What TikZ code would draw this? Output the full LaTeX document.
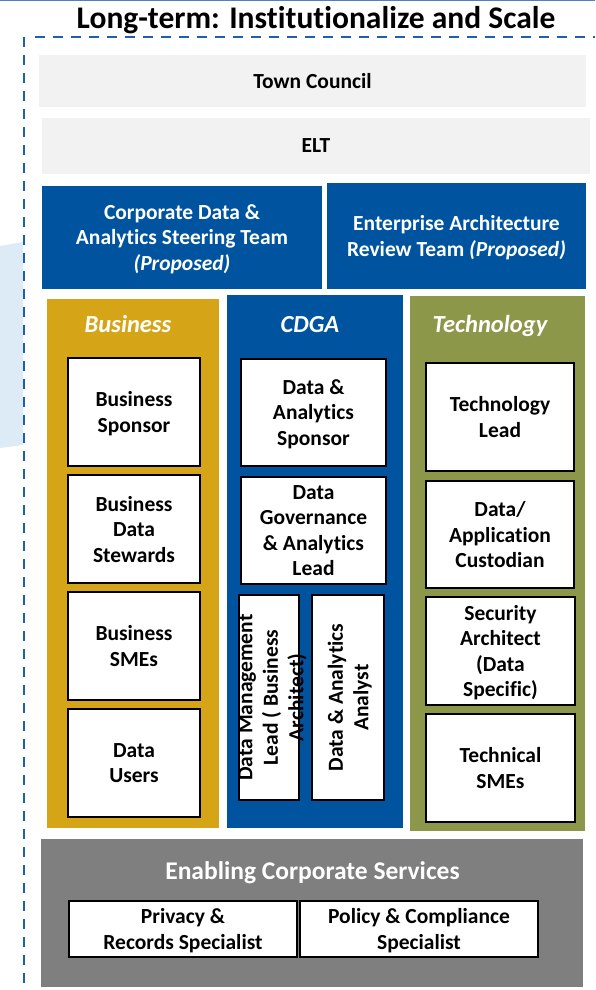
\documentclass[tikz,border=0pt]{standalone}
\usepackage{fontspec}
\setmainfont{Carlito}[Ligatures=NoCommon]
\definecolor{cblue}{RGB}{0,84,159}
\definecolor{cgold}{RGB}{214,165,23}
\definecolor{colive}{RGB}{141,151,73}
\definecolor{clgray}{RGB}{242,242,242}
\definecolor{cmgray}{RGB}{127,127,127}
\definecolor{cdash}{RGB}{31,95,170}
\definecolor{clblue}{RGB}{221,235,247}
\definecolor{ctblue}{RGB}{79,129,189}
\begin{document}
\begin{tikzpicture}[x=1pt,y=-1pt,
  lbl/.style={font=\bfseries\fontsize{21.5}{25.5}\selectfont, align=center, inner sep=0pt, text depth=0pt},
  sz/.style 2 args={minimum width=#1pt, minimum height=#2pt},
  wbox/.style={lbl, draw=black, line width=1.4pt, fill=white},
  gbox/.style={lbl, fill=clgray},
  bbox/.style={lbl, fill=cblue, text=white},
  col/.style={draw=white, line width=1.2pt, inner sep=0pt},
  head/.style={font=\bfseries\itshape\fontsize{24.5}{28}\selectfont, text=white, anchor=base, inner sep=0pt},
  dashline/.style={draw=cdash, line width=2.6pt, dash pattern=on 10pt off 8pt}]
\useasboundingbox (0,0) rectangle (595,990);
% top rule and left tint
\draw[ctblue, line width=1.5pt] (0,0.75) -- (595,0.75);
\fill[clblue] (0,246) -- (23,242) -- (23,445) -- (0,448) -- cycle;
% title
\node[font=\bfseries\fontsize{31.5}{36}\selectfont, anchor=base, inner sep=0pt] (title) at (316,29) {Long-term: Institutionalize and Scale};
% dashed frame
\coordinate (fc) at (24,37);
\coordinate (fb) at (24,990);
\coordinate (ft) at (35,37);
\coordinate (fr) at (595,37);
\draw[dashline] (fc) -- (fb);
\draw[dashline] (ft) -- (fr);
% governance
\node[gbox, sz={547}{52}] (tc) at (312.5,81) {Town Council};
\node[gbox, sz={548}{56}] (elt) at (316,146) {ELT};
\node[bbox, sz={280}{103}] (cdast) at (182,237.5) {Corporate Data \&\\Analytics Steering Team\\\textit{(Proposed)}};
\node[bbox, sz={259}{106}] (eart) at (456.5,236) {Enterprise Architecture\\Review Team \textit{(Proposed)}};
% columns
\node[col, fill=cgold, sz={174}{531}] (bus) at (133,563.5) {};
\node[col, fill=cblue, sz={178}{535}] (cdga) at (315,561.5) {};
\node[col, fill=colive, sz={177}{537}] (tech) at (497.5,563.5) {};
\node[head] (hbus) at (128,332) {Business};
\node[head] (hcdga) at (310,332) {CDGA};
\node[head] (htech) at (490,332) {Technology};
% business
\node[wbox, sz={132}{108}] (b1) at (134,412) {Business\\Sponsor};
\node[wbox, sz={132}{108}] (b2) at (134,529) {Business\\Data\\Stewards};
\node[wbox, sz={132}{108}] (b3) at (134,646) {Business\\SMEs};
\node[wbox, sz={132}{108}] (b4) at (134,763) {Data\\Users};
% cdga
\node[wbox, sz={145}{107}] (c1) at (313.5,412.5) {Data \&\\Analytics\\Sponsor};
\node[wbox, sz={145}{107}] (c2) at (313.5,530.5) {Data\\Governance\\\& Analytics\\Lead};
\node[wbox, sz={60}{205}] (c3) at (269,697.5) {};
\node[lbl, rotate=90] (c3t) at (271,697.5) {Data Management\\Lead ( Business\\Architect)};
\node[wbox, sz={72}{205}] (c4) at (348,697.5) {};
\node[lbl, rotate=90] (c4t) at (348,697.5) {Data \& Analytics\\Analyst};
% technology
\node[wbox, sz={148}{108}] (t1) at (500,417) {Technology\\Lead};
\node[wbox, sz={148}{107}] (t2) at (500,534.5) {Data/\\Application\\Custodian};
\node[wbox, sz={149}{108}] (t3) at (500.5,651) {Security\\Architect\\(Data\\Specific)};
\node[wbox, sz={149}{108}] (t4) at (500.5,768) {Technical\\SMEs};
% enabling services
\node[inner sep=0pt, fill=cmgray, sz={542}{148}] (ecs) at (312,913) {};
\node[font=\bfseries\fontsize{25.5}{30}\selectfont, text=white, anchor=base, inner sep=0pt] (hecs) at (312.5,879) {Enabling Corporate Services};
\node[wbox, sz={228}{56}] (e1) at (183,929) {Privacy \&\\Records Specialist};
\node[wbox, sz={238}{56}] (e2) at (419,929) {Policy \& Compliance\\Specialist};
\end{tikzpicture}
\end{document}
